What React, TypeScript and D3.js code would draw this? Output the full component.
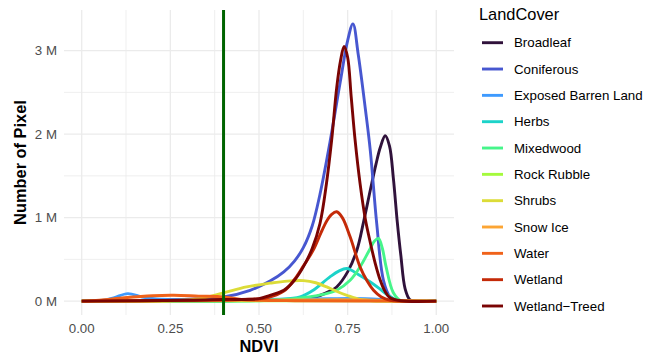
import * as d3 from 'd3';

const landCovers = [
  'Broadleaf',
  'Coniferous',
  'Exposed Barren Land',
  'Herbs',
  'Mixedwood',
  'Rock Rubble',
  'Shrubs',
  'Snow Ice',
  'Water',
  'Wetland',
  'Wetland−Treed',
];

const palette = [
  '#30123B',
  '#4757D0',
  '#3E9AFE',
  '#1CD3C9',
  '#46F58A',
  '#A4FA3C',
  '#DCDC38',
  '#FCA534',
  '#F0621A',
  '#C42A08',
  '#7A0403',
];

// [NDVI, pixels in millions]
const broadleaf: [number, number][] = [
  [0, 0], [0.4, 0.005], [0.6, 0.02], [0.65, 0.04], [0.7, 0.12], [0.719, 0.17], [0.75, 0.35],
  [0.776, 0.61], [0.795, 0.95], [0.814, 1.33], [0.83, 1.64], [0.842, 1.84], [0.856, 1.98],
  [0.868, 1.86], [0.879, 1.47], [0.89, 0.95], [0.9, 0.55], [0.912, 0.15], [0.925, 0.02],
  [0.94, 0], [1, 0],
];
const coniferous: [number, number][] = [
  [0, 0], [0.2, 0.01], [0.333, 0.03], [0.4, 0.05], [0.475, 0.13], [0.531, 0.24], [0.57, 0.35],
  [0.6, 0.48], [0.625, 0.64], [0.65, 0.9], [0.672, 1.28], [0.7, 1.9], [0.729, 2.62],
  [0.75, 3.12], [0.765, 3.32], [0.78, 2.95], [0.8, 2.3], [0.814, 1.8], [0.832, 0.93],
  [0.851, 0.25], [0.87, 0.05], [0.89, 0.005], [0.91, 0], [1, 0],
];
const exposedBarrenLand: [number, number][] = [
  [0, 0], [0.05, 0.005], [0.09, 0.04], [0.13, 0.09], [0.17, 0.05], [0.21, 0.025], [0.3, 0.02],
  [0.5, 0.02], [0.7, 0.03], [0.8, 0.03], [0.85, 0.02], [0.9, 0.005], [1, 0],
];
const herbs: [number, number][] = [
  [0, 0], [0.4, 0.005], [0.55, 0.02], [0.616, 0.05], [0.653, 0.13], [0.7, 0.29], [0.725, 0.36],
  [0.748, 0.39], [0.78, 0.32], [0.814, 0.23], [0.84, 0.15], [0.861, 0.08], [0.89, 0.01],
  [0.92, 0], [1, 0],
];
const mixedwood: [number, number][] = [
  [0, 0], [0.5, 0.005], [0.6, 0.03], [0.68, 0.08], [0.719, 0.13], [0.757, 0.25], [0.785, 0.41],
  [0.81, 0.6], [0.826, 0.72], [0.837, 0.75], [0.848, 0.63], [0.858, 0.42], [0.879, 0.1],
  [0.9, 0.005], [0.92, 0], [1, 0],
];
const rockRubble: [number, number][] = [
  [0, 0], [0.2, 0.003], [0.5, 0.003], [0.8, 0.003], [1, 0],
];
const shrubs: [number, number][] = [
  [0, 0], [0.25, 0.005], [0.333, 0.03], [0.4, 0.1], [0.465, 0.17], [0.531, 0.215],
  [0.58, 0.24], [0.625, 0.245], [0.66, 0.22], [0.691, 0.17], [0.72, 0.115], [0.748, 0.07],
  [0.785, 0.02], [0.82, 0.005], [0.85, 0], [1, 0],
];
const snowIce: [number, number][] = [
  [0, 0], [0.3, 0.005], [0.45, 0.01], [0.6, 0.015], [0.8, 0.015], [0.9, 0.005], [1, 0],
];
const water: [number, number][] = [
  [0, 0], [0.05, 0.01], [0.12, 0.04], [0.2, 0.065], [0.26, 0.07], [0.33, 0.06], [0.4, 0.05],
  [0.45, 0.02], [0.5, 0.01], [0.6, 0.005], [1, 0],
];
const wetland: [number, number][] = [
  [0, 0], [0.3, 0.01], [0.45, 0.02], [0.522, 0.04], [0.57, 0.12], [0.6, 0.26], [0.625, 0.42],
  [0.653, 0.61], [0.675, 0.82], [0.691, 0.96], [0.705, 1.04], [0.719, 1.07], [0.735, 1.0],
  [0.757, 0.77], [0.785, 0.41], [0.805, 0.24], [0.823, 0.13], [0.845, 0.05], [0.87, 0.01],
  [0.9, 0], [1, 0],
];
const wetlandTreed: [number, number][] = [
  [0, 0], [0.3, 0.01], [0.4, 0.02], [0.5, 0.03], [0.531, 0.07], [0.57, 0.13], [0.6, 0.25],
  [0.625, 0.41], [0.65, 0.63], [0.672, 0.93], [0.69, 1.4], [0.705, 1.93], [0.719, 2.55],
  [0.73, 2.88], [0.74, 3.05], [0.75, 2.92], [0.76, 2.45], [0.771, 1.93], [0.785, 1.41],
  [0.8, 0.98], [0.814, 0.7], [0.828, 0.45], [0.842, 0.25], [0.855, 0.12], [0.87, 0.04],
  [0.9, 0.005], [1, 0],
];

const seriesValues = [
  broadleaf, coniferous, exposedBarrenLand, herbs, mixedwood, rockRubble,
  shrubs, snowIce, water, wetland, wetlandTreed,
];

const xTicks = [0, 0.25, 0.5, 0.75, 1];
const yTicks = [0, 1, 2, 3];
const threshold = 0.4;

const font = '"Liberation Sans", Arial, sans-serif';

export default function App() {
  const width = 661;
  const height = 356;
  const panel = { left: 64, right: 454, top: 10, bottom: 315 };

  const x = d3.scaleLinear().domain([-0.05, 1.05]).range([panel.left, panel.right]);
  const yMax = 3.32;
  const y = d3
    .scaleLinear()
    .domain([-yMax * 0.05, yMax * 1.05])
    .range([panel.bottom, panel.top]);

  const line = d3
    .line<[number, number]>()
    .x((d) => x(d[0]))
    .y((d) => y(Math.max(0, d[1])))
    .curve(d3.curveCatmullRom.alpha(0.5));

  const xMinor = xTicks.slice(1).map((t, i) => (t + xTicks[i]) / 2);
  const yMinor = yTicks.slice(1).map((t, i) => (t + yTicks[i]) / 2);

  const legendX = 479;
  const legendRow0 = 42.7;
  const legendStep = 26.33;

  return (
    <svg
      width={width}
      height={height}
      style={{ position: 'fixed', left: 0, top: 0, background: '#fff' }}
      fontFamily={font}
    >
      {/* grid */}
      <g stroke="#EBEBEB" fill="none">
        {xMinor.map((t) => (
          <line key={'xm' + t} x1={x(t)} x2={x(t)} y1={panel.top} y2={panel.bottom} strokeWidth={0.8} />
        ))}
        {yMinor.map((t) => (
          <line key={'ym' + t} x1={panel.left} x2={panel.right} y1={y(t)} y2={y(t)} strokeWidth={0.8} />
        ))}
        {xTicks.map((t) => (
          <line key={'x' + t} x1={x(t)} x2={x(t)} y1={panel.top} y2={panel.bottom} strokeWidth={1.3} />
        ))}
        {yTicks.map((t) => (
          <line key={'y' + t} x1={panel.left} x2={panel.right} y1={y(t)} y2={y(t)} strokeWidth={1.3} />
        ))}
      </g>

      {/* density lines */}
      <g fill="none" strokeWidth={2.9} strokeLinejoin="round" strokeLinecap="butt">
        {seriesValues.map((vals, i) => (
          <path key={landCovers[i]} d={line(vals) ?? ''} stroke={palette[i]} />
        ))}
      </g>

      {/* threshold */}
      <line
        x1={x(threshold)}
        x2={x(threshold)}
        y1={panel.top}
        y2={panel.bottom}
        stroke="#006400"
        strokeWidth={3}
      />

      {/* axes text */}
      <g fontSize={13.3} fill="#4D4D4D">
        {xTicks.map((t) => (
          <text key={'xl' + t} x={x(t)} y={333} textAnchor="middle">
            {d3.format('.2f')(t)}
          </text>
        ))}
        {yTicks.map((t) => (
          <text key={'yl' + t} x={57} y={y(t)} textAnchor="end" dominantBaseline="central">
            {`${t} M`}
          </text>
        ))}
      </g>
      <text
        x={(panel.left + panel.right) / 2}
        y={352}
        textAnchor="middle"
        fontSize={16.4}
        fontWeight="bold"
      >
        NDVI
      </text>
      <text
        transform={`translate(26,${(panel.top + panel.bottom) / 2}) rotate(-90)`}
        textAnchor="middle"
        fontSize={16.4}
        fontWeight="bold"
      >
        Number of Pixel
      </text>

      {/* legend */}
      <text x={legendX} y={20} fontSize={16.4}>
        LandCover
      </text>
      {landCovers.map((name, i) => {
        const cy = legendRow0 + i * legendStep;
        return (
          <g key={'lg' + name}>
            <line x1={482} x2={503} y1={cy} y2={cy} stroke={palette[i]} strokeWidth={2.9} />
            <text x={514} y={cy} fontSize={13.3} dominantBaseline="central" fill="#000">
              {name}
            </text>
          </g>
        );
      })}
    </svg>
  );
}
